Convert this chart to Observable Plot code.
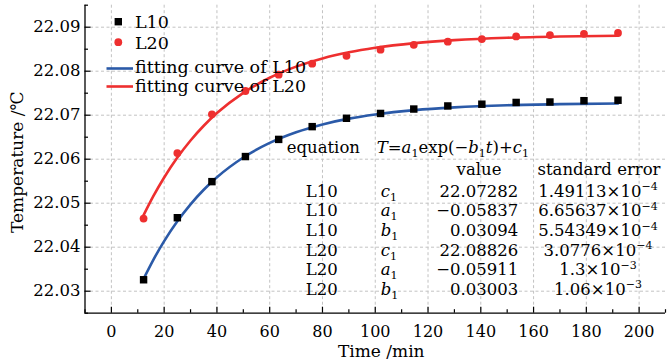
<!DOCTYPE html>
<html><head><meta charset="utf-8">
<script src="https://cdn.jsdelivr.net/npm/d3@7"></script>
<script src="https://cdn.jsdelivr.net/npm/@observablehq/plot@0.6"></script>
<style>
body{margin:0;background:#fff}
svg{font-family:"DejaVu Serif",serif}
</style></head><body><div id="chart"></div>
<script>
// measured data (Time /min, Temperature /°C)
const time = [12.2, 25.0, 38.1, 50.8, 63.4, 76.1, 89.1, 102.0, 114.6, 127.5, 140.4, 153.4, 166.2, 179.1, 192.0];
const tempL10 = [22.0326, 22.0467, 22.0549, 22.0606, 22.0645, 22.0674, 22.0693, 22.0704, 22.0714, 22.0721, 22.0725, 22.0729, 22.0730, 22.0733, 22.0734];
const tempL20 = [22.0465, 22.0614, 22.0702, 22.0755, 22.0792, 22.0817, 22.0835, 22.0849, 22.0860, 22.0867, 22.0873, 22.0879, 22.0882, 22.0885, 22.0887];
// fitting curves
const fitTime = [12.2, 16, 20, 25, 30, 35, 40, 50, 60, 70, 80, 90, 100, 115, 130, 150, 170, 192];
const fitL10 = [22.03280, 22.03724, 22.04138, 22.04589, 22.04975, 22.05305, 22.05589, 22.06039, 22.06370, 22.06613, 22.06791, 22.06922, 22.07017, 22.07116, 22.07177, 22.07226, 22.07252, 22.07267];
const fitL20 = [22.04728, 22.05170, 22.05584, 22.06036, 22.06425, 22.06760, 22.07048, 22.07509, 22.07851, 22.08104, 22.08291, 22.08430, 22.08533, 22.08639, 22.08707, 22.08761, 22.08790, 22.08807];
// ticks
const xTicks = [0, 20, 40, 60, 80, 100, 120, 140, 160, 180, 200];
const xMinor = [-10, 10, 30, 50, 70, 90, 110, 130, 150, 170, 190, 210];
const yTicks = [22.03, 22.04, 22.05, 22.06, 22.07, 22.08, 22.09];
const yMinor = [22.025, 22.035, 22.045, 22.055, 22.065, 22.075, 22.085, 22.095];
// legend
const legendLabels = ["L10", "L20", "fitting curve of L10", "fitting curve of L20"];
// annotation table
const eqLabel = "equation";
const tableHeader = ["value", "standard error"];
const tableSeries = ["L10", "L10", "L10", "L20", "L20", "L20"];
const tableParams = ["c", "a", "b", "c", "a", "b"];
const tableValues = ["22.07282", "\u22120.05837", "0.03094", "22.08826", "\u22120.05911", "0.03003"];
const tableErrMant = ["1.49113", "6.65637", "5.54349", "3.0776", "1.3", "1.06"];
const tableErrExp = ["\u22124", "\u22124", "\u22124", "\u22124", "\u22123", "\u22123"];

const BLUE = "#2b5aa8", RED = "#ee2f2f";
const l10 = time.map((t, i) => ({t, v: tempL10[i]}));
const l20 = time.map((t, i) => ({t, v: tempL20[i]}));
const f10 = fitTime.map((t, i) => ({t, v: fitL10[i]}));
const f20 = fitTime.map((t, i) => ({t, v: fitL20[i]}));

const gridStyle = {stroke: "#c2c2c2", strokeOpacity: 1, strokeDasharray: "3,2.5", strokeWidth: 1};

const plot = Plot.plot({
  width: 668, height: 363,
  marginLeft: 84.5, marginRight: 3, marginTop: 4.7, marginBottom: 50.3,
  style: {fontFamily: "DejaVu Serif", fontSize: "16px", background: "white", color: "black", fontWeight: "normal"},
  x: {domain: [-10, 210]},
  y: {domain: [22.025, 22.095]},
  marks: [
    Plot.gridX(xTicks, gridStyle),
    Plot.gridY(yTicks, gridStyle),
    Plot.ruleX([-10], {stroke: "black", strokeWidth: 1.3}),
    Plot.ruleY([22.025], {stroke: "black", strokeWidth: 1.3}),
    Plot.axisX(xTicks, {tickSize: 0, tickPadding: 12.6, fontSize: 16, label: null}),
    Plot.axisX(xTicks, {tickSize: 6, dy: -6, fill: "none", label: null, strokeWidth: 1.2}),
    Plot.axisX(xMinor, {tickSize: 3.5, dy: -3.5, fill: "none", label: null, strokeWidth: 1.2}),
    Plot.axisY(yTicks, {tickSize: 0, tickPadding: 4.5, fontSize: 16.5, tickFormat: d3.format(".2f"), label: null}),
    Plot.axisY(yTicks, {tickSize: 6, dx: 6, fill: "none", label: null, strokeWidth: 1.2}),
    Plot.axisY(yMinor, {tickSize: 3.5, dx: 3.5, fill: "none", label: null, strokeWidth: 1.2}),
    Plot.line(f10, {x: "t", y: "v", stroke: BLUE, strokeWidth: 2.6, curve: "monotone-x"}),
    Plot.line(f20, {x: "t", y: "v", stroke: RED, strokeWidth: 2.6, curve: "monotone-x"}),
    Plot.dot(l10, {x: "t", y: "v", symbol: "square", r: 4.2, fill: "black", stroke: "none"}),
    Plot.dot(l20, {x: "t", y: "v", symbol: "circle", r: 3.9, fill: RED, stroke: "none"}),
    Plot.text(["Time /min"], {frameAnchor: "bottom", textAnchor: "middle", dx: 6, dy: 38, fontSize: 17, fontWeight: "normal", lineAnchor: "middle"}),
    Plot.text(["Temperature /\u2103"], {frameAnchor: "left", textAnchor: "middle", rotate: -90, dx: -67, dy: 3, fontSize: 17, fontWeight: "normal", lineAnchor: "middle"})
  ]
});
document.getElementById("chart").appendChild(plot);

// legend and annotation table
const svg = d3.select(plot);
const g = svg.append("g").attr("font-family", "DejaVu Serif").attr("fill", "black").attr("text-anchor", "start");
const lg = g.append("g").attr("font-size", 17.5);
lg.append("rect").attr("x", 118.3 - 3.7).attr("y", 21.7 - 3.7).attr("width", 7.4).attr("height", 7.4).attr("fill", "black");
lg.append("circle").attr("cx", 118.3).attr("cy", 42.2).attr("r", 3.9).attr("fill", RED);
lg.append("line").attr("x1", 106.5).attr("x2", 133).attr("y1", 68.5).attr("y2", 68.5).attr("stroke", BLUE).attr("stroke-width", 2.6);
lg.append("line").attr("x1", 106.5).attr("x2", 133).attr("y1", 86.5).attr("y2", 86.5).attr("stroke", RED).attr("stroke-width", 2.6);
const legendBase = [27.5, 48.5, 73, 92];
legendLabels.forEach((s, i) => lg.append("text").attr("x", 135).attr("y", legendBase[i]).text(s));

const tg = g.append("g").attr("font-size", 16.5);
tg.append("text").attr("x", 286.7).attr("y", 153).text(eqLabel);
const eq = tg.append("text").attr("x", 376.7).attr("y", 153);
const it = (sel, s) => sel.append("tspan").attr("font-style", "italic").text(s);
const sub = (sel, s) => { sel.append("tspan").attr("font-size", 11).attr("dy", 4).text(s); };
it(eq, "T"); eq.append("tspan").text("=");
it(eq, "a"); sub(eq, "1");
eq.append("tspan").attr("dy", -4).text("exp(\u2212");
it(eq, "b"); sub(eq, "1");
eq.append("tspan").attr("dy", -4).attr("font-style", "italic").text("t");
eq.append("tspan").text(")+");
it(eq, "c"); sub(eq, "1");

tg.append("text").attr("x", 479).attr("y", 175).attr("text-anchor", "middle").text(tableHeader[0]);
tg.append("text").attr("x", 599).attr("y", 175).attr("text-anchor", "middle").text(tableHeader[1]);
tableSeries.forEach((s, i) => {
  const y = 196.8 + 19.6 * i;
  tg.append("text").attr("x", 321.7).attr("y", y).attr("text-anchor", "middle").text(s);
  const p = tg.append("text").attr("x", 380.7).attr("y", y);
  it(p, tableParams[i]); sub(p, "1");
  tg.append("text").attr("x", 518.3).attr("y", y).attr("text-anchor", "end").text(tableValues[i]);
  const e = tg.append("text").attr("x", 598).attr("y", y).attr("text-anchor", "middle");
  e.append("tspan").text(tableErrMant[i] + "\u00d710");
  e.append("tspan").attr("font-size", 11).attr("dy", -6.5).text(tableErrExp[i]);
});
</script></body></html>
